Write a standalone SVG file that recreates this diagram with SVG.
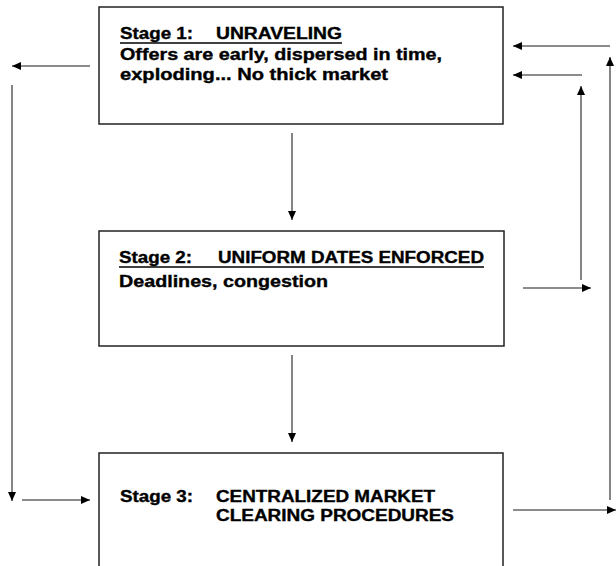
<svg xmlns="http://www.w3.org/2000/svg" width="616" height="566" viewBox="0 0 616 566">
<style>
.box{fill:#fff;stroke:#222;stroke-width:1.5}
.t{font-family:"Liberation Sans",Arial,sans-serif;font-weight:bold;font-size:16px;fill:#000;stroke:#000;stroke-width:0.35}
.ul{stroke:#000;stroke-width:1.4}
.ca{stroke:#666;stroke-width:1.6;fill:none;marker-end:url(#ah)}
</style>
<defs>
<marker id="ah" markerUnits="userSpaceOnUse" markerWidth="10" markerHeight="8" refX="9" refY="4" orient="auto">
<path d="M0,0 L9,4 L0,8 Z" fill="#000"/>
</marker>
</defs>
<rect width="616" height="566" fill="#fff"/>
<g id="stage1">
<rect class="box" x="99" y="7" width="404" height="117"/>
<text class="t" x="120" y="39" textLength="73" lengthAdjust="spacingAndGlyphs">Stage 1:</text>
<text class="t" x="216" y="39" textLength="126" lengthAdjust="spacingAndGlyphs">UNRAVELING</text>
<line class="ul" x1="120" y1="43" x2="342" y2="43"/>
<text class="t" x="120" y="60" textLength="322" lengthAdjust="spacingAndGlyphs">Offers are early, dispersed in time,</text>
<text class="t" x="120" y="80" textLength="268" lengthAdjust="spacingAndGlyphs">exploding... No thick market</text>
</g>
<g id="stage2">
<rect class="box" x="99" y="231" width="405" height="115"/>
<text class="t" x="119" y="263" textLength="73" lengthAdjust="spacingAndGlyphs">Stage 2:</text>
<text class="t" x="218" y="263" textLength="266" lengthAdjust="spacingAndGlyphs">UNIFORM DATES ENFORCED</text>
<line class="ul" x1="119" y1="267" x2="484" y2="267"/>
<text class="t" x="119" y="287" textLength="209" lengthAdjust="spacingAndGlyphs">Deadlines, congestion</text>
</g>
<g id="stage3">
<rect class="box" x="99" y="453" width="404" height="130"/>
<text class="t" x="120" y="502" textLength="73" lengthAdjust="spacingAndGlyphs">Stage 3:</text>
<text class="t" x="216" y="502" textLength="219" lengthAdjust="spacingAndGlyphs">CENTRALIZED MARKET</text>
<text class="t" x="216" y="521" textLength="238" lengthAdjust="spacingAndGlyphs">CLEARING PROCEDURES</text>
</g>
<g id="connectors">
<line class="ca" x1="292" y1="133" x2="292" y2="220"/>
<line class="ca" x1="292" y1="355" x2="292" y2="442"/>
<line class="ca" x1="90" y1="66" x2="12" y2="66"/>
<line class="ca" x1="12" y1="85" x2="12" y2="501"/>
<line class="ca" x1="22" y1="500" x2="90" y2="500"/>
<line class="ca" x1="610" y1="46" x2="513" y2="46"/>
<line class="ca" x1="582" y1="75" x2="513" y2="75"/>
<line class="ca" x1="581" y1="280" x2="581" y2="86"/>
<line class="ca" x1="610" y1="500" x2="610" y2="57"/>
<line class="ca" x1="523" y1="288" x2="591" y2="288"/>
<line class="ca" x1="513" y1="510" x2="616" y2="510"/>
</g>
</svg>
